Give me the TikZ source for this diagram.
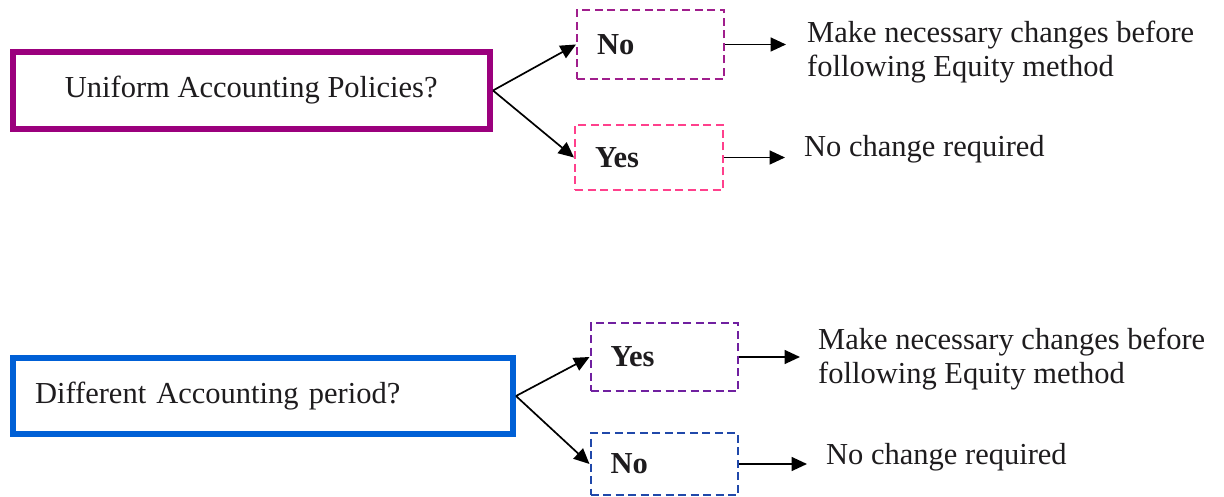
\documentclass[tikz,border=0pt]{standalone}
\usepackage{fontspec}
\setmainfont{Liberation Serif}
\usetikzlibrary{arrows.meta}

\definecolor{qmagenta}{RGB}{155,0,125}
\definecolor{qblue}{RGB}{0,96,214}
\definecolor{dpurpleA}{RGB}{160,30,140}
\definecolor{dpink}{RGB}{255,64,140}
\definecolor{dpurpleB}{RGB}{112,32,160}
\definecolor{dblue}{RGB}{32,72,170}
\definecolor{ink}{RGB}{30,28,30}

\newcommand{\bodysize}{\fontsize{30.5}{34}\selectfont}

\tikzset{
  question/.style={draw=#1, line width=6pt, inner sep=0pt, text=ink},
  answer/.style={draw=#1, dashed, dash pattern=on 8pt off 4.5pt, line width=2pt,
    inner xsep=20pt, inner ysep=0pt, align=left, font=\bodysize\bfseries, text=ink},
  result/.style={anchor=base west, align=left, inner sep=0pt, text=ink},
  flow/.style={-{Triangle[length=15.5pt,width=14pt]}, line width=1.7pt, black},
}

\begin{document}
\begin{tikzpicture}[x=1pt, y=-1pt, font=\bodysize]
  \useasboundingbox (0,0) rectangle (1224,497);

  % first question and its two answers
  \node[question=qmagenta, minimum width=477.5pt, minimum height=77pt]
    (q1) at (251.25,90.5) {Uniform Accounting Policies?};
  \node[answer=dpurpleA, text width=107pt, minimum height=69pt]
    (q1no) at (650.5,44.5) {No};
  \node[answer=dpink, text width=108pt, minimum height=65pt]
    (q1yes) at (649,157.5) {Yes};
  % the base anchor of a two-line text sits on its last line
  \node[result] (r1) at (807,77) {Make necessary changes before\\following Equity method};
  \node[result] (r2) at (804,157) {No change required};
  \coordinate (e1) at (786,44.5);
  \coordinate (e2) at (785,157.5);

  \draw[flow] (q1.east) -- (q1no.west);
  \draw[flow] (q1.east) -- (q1yes.west);
  \draw[flow] (q1no.east) -- (e1);
  \draw[flow] (q1yes.east) -- (e2);

  % second question and its two answers
  \node[question=qblue, minimum width=500.5pt, minimum height=76pt,
        text width=455.5pt, align=left, inner xsep=22.5pt]
    (q2) at (262.75,396) {Different Accounting period?};
  \node[answer=dpurpleB, text width=107.5pt, minimum height=68pt]
    (q2yes) at (664.25,357) {Yes};
  \node[answer=dblue, text width=107.5pt, minimum height=62pt]
    (q2no) at (664.25,464) {No};
  \node[result] (r3) at (818,383) {Make necessary changes before\\following Equity method};
  \node[result] (r4) at (826,464) {No change required};
  \coordinate (e3) at (800,357);
  \coordinate (e4) at (807,464);

  \draw[flow] (q2.east) -- (q2yes.west);
  \draw[flow] (q2.east) -- (q2no.west);
  \draw[flow] (q2yes.east) -- (e3);
  \draw[flow] (q2no.east) -- (e4);
\end{tikzpicture}
\end{document}
